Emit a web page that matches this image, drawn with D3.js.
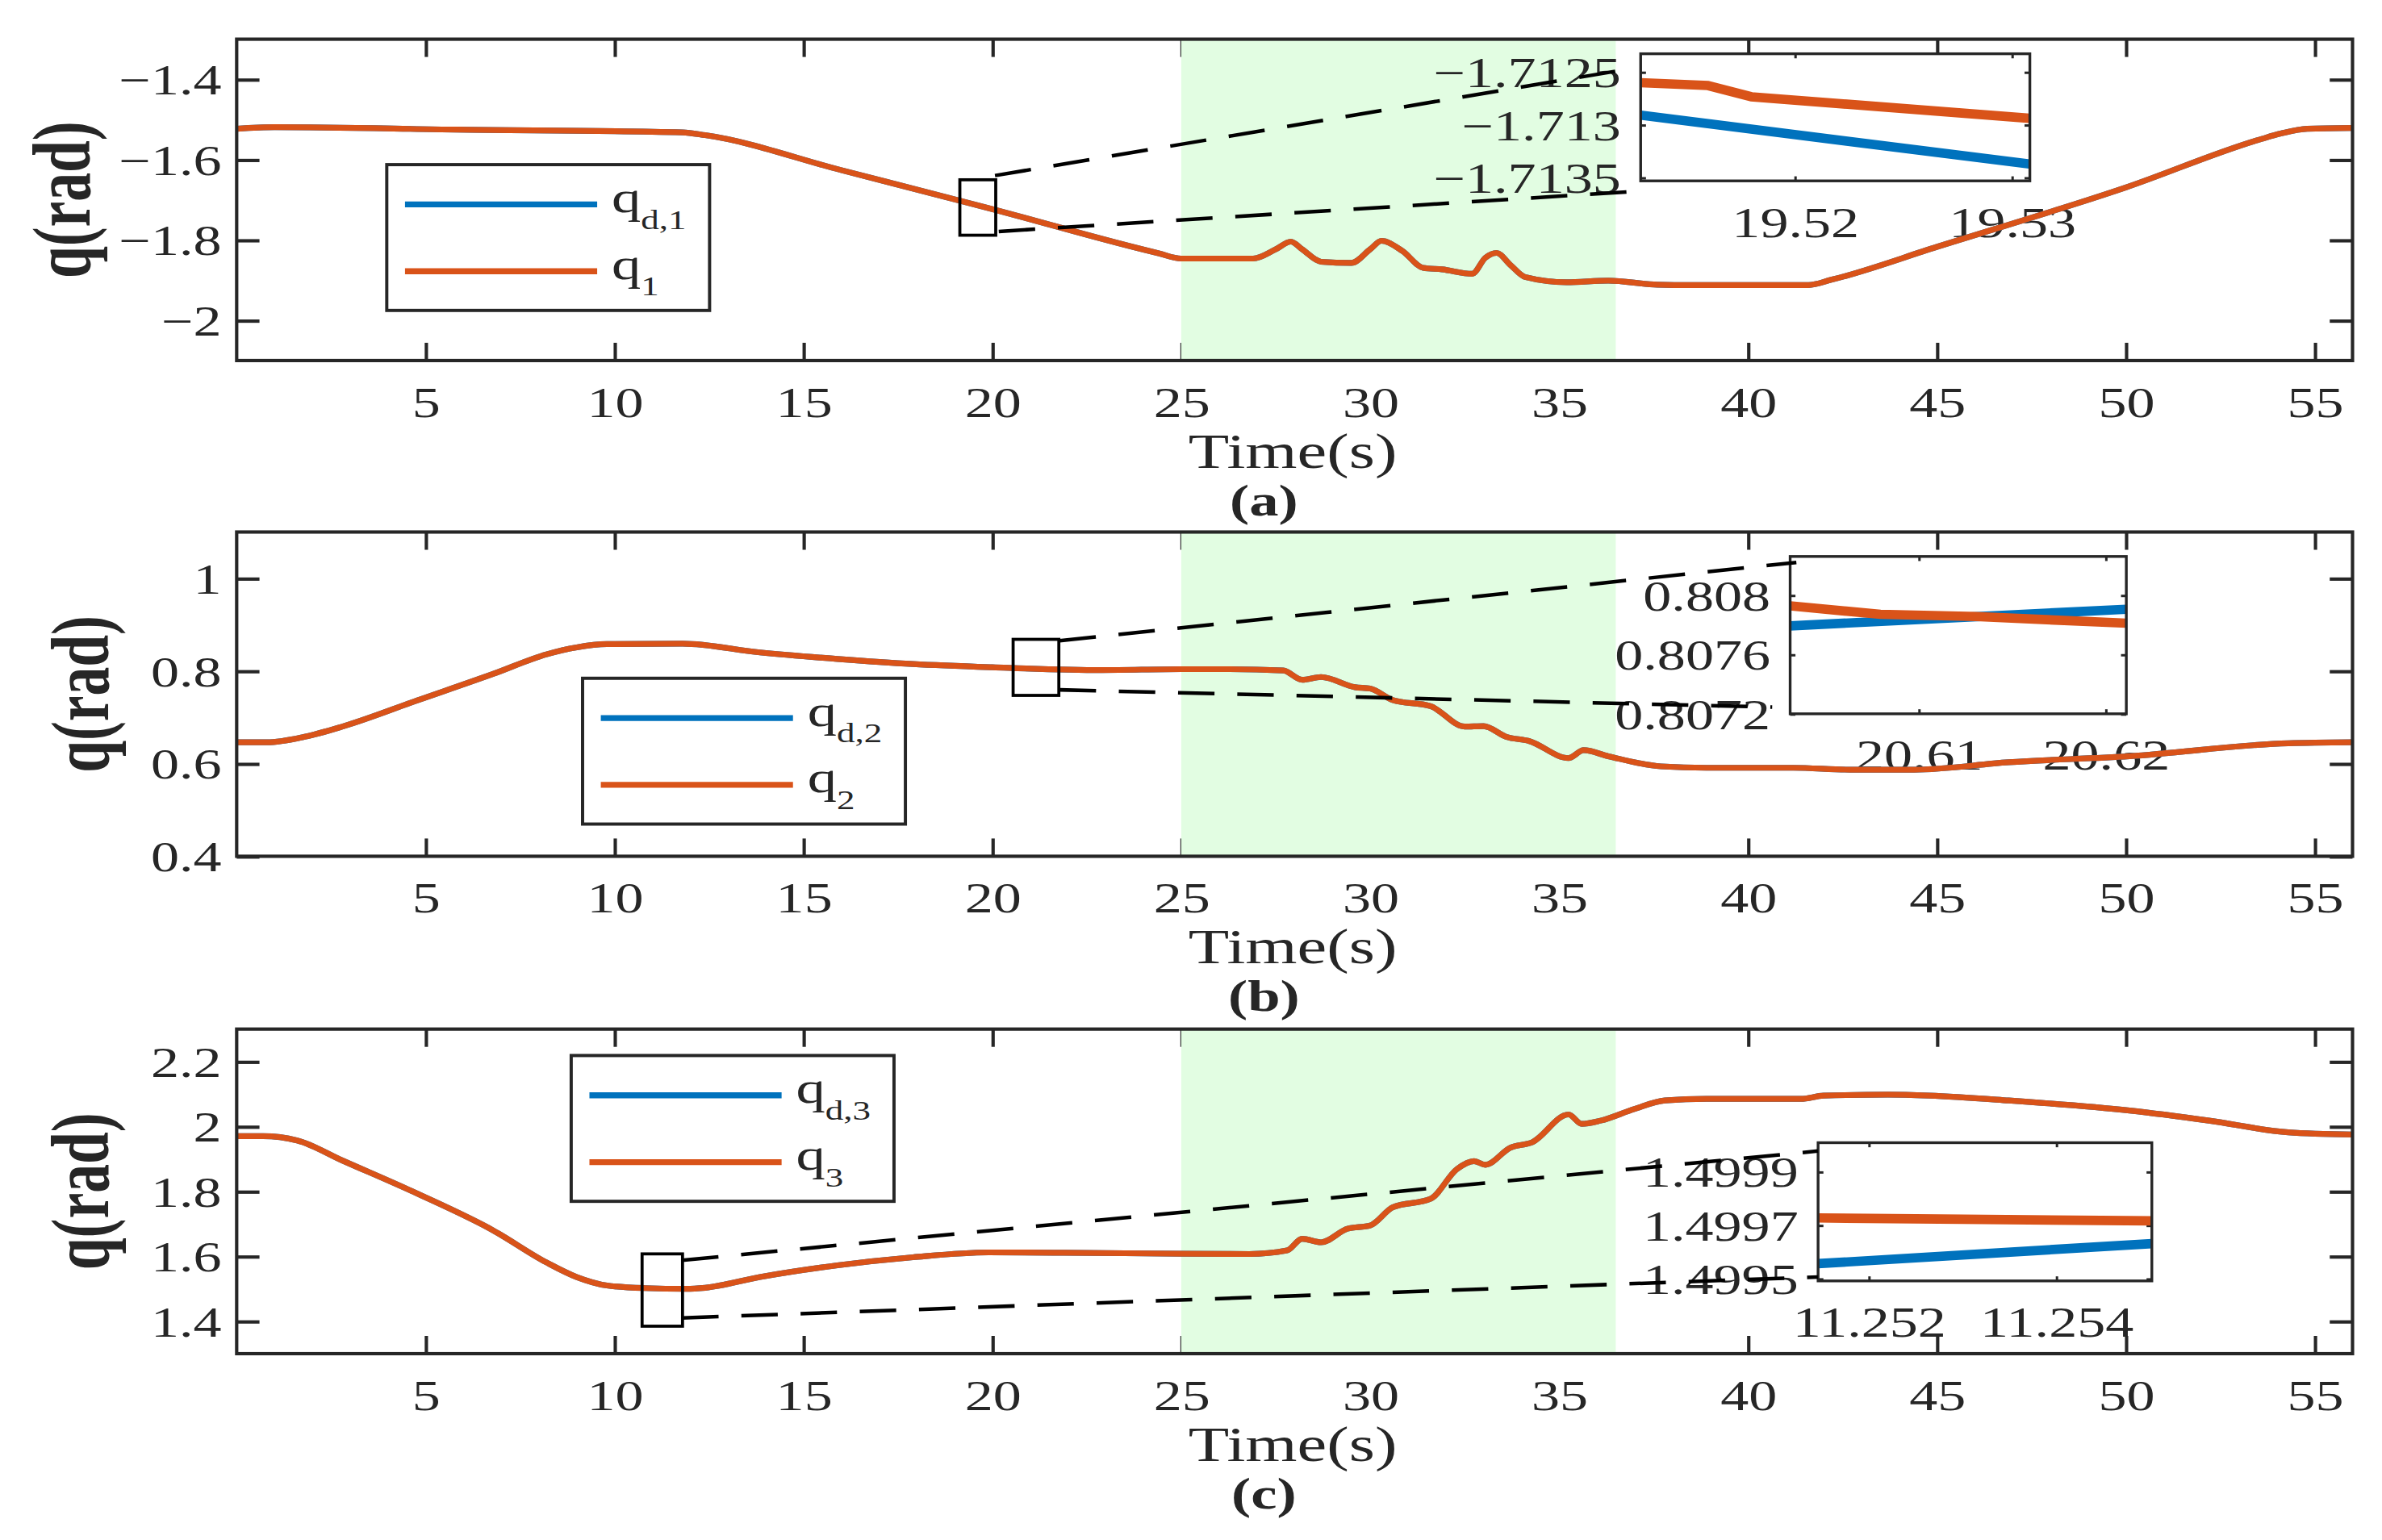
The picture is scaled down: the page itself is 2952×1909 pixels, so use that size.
<!DOCTYPE html>
<html lang="en">
<head>
  <meta charset="utf-8">
  <title>q(rad) vs Time(s)</title>
  <script src="https://cdn.jsdelivr.net/npm/d3@7"></script>
  <style>
    body { margin: 0; background: #fff; overflow: hidden; }
    svg { display: block; }
    text { font-family: "Liberation Serif", "Times New Roman", serif; fill: #262626; }
  </style>
</head>
<body>
  <div id="chart"></div>
  <script>
    // shared time axis
    const timeTicks = [5, 10, 15, 20, 25, 30, 35, 40, 45, 50, 55];
    const shadedWindow = [25, 36.5];

    // (a) joint 1 — desired and measured overlap at this scale
    const t1 = [0, 1.0, 5.8, 11.8, 12.4, 16.0, 20.0, 24.4, 25.0, 26.9, 27.5, 27.9, 28.2, 28.7, 29.5, 30.0, 30.3, 30.85, 31.4, 31.9, 32.7, 33.05, 33.35, 33.7, 34.1, 35.2, 36.3, 37.6, 38.5, 41.6, 42.2, 45.0, 50.0, 53.6, 54.1, 54.8, 56.0];
    const q1 = [-1.523, -1.519, -1.525, -1.532, -1.539, -1.626, -1.723, -1.833, -1.846, -1.846, -1.823, -1.804, -1.823, -1.854, -1.857, -1.823, -1.802, -1.827, -1.869, -1.873, -1.884, -1.844, -1.832, -1.861, -1.892, -1.905, -1.901, -1.911, -1.912, -1.912, -1.899, -1.817, -1.669, -1.548, -1.535, -1.523, -1.521];
    const q1Ticks = [-2, -1.8, -1.6, -1.4];
    // zoomed detail of joint 1
    const t1Zoom = [19.5129, 19.5160, 19.5180, 19.5308];
    const q1Zoom = [-1.712601, -1.712628, -1.712735, -1.712939];
    const t1dZoom = [19.5129, 19.5308];
    const qd1Zoom = [-1.712909, -1.713372];
    const t1ZoomTicks = [19.52, 19.53];
    const q1ZoomTicks = [-1.7135, -1.713, -1.7125];

    // (b) joint 2
    const t2 = [0, 0.8, 1.8, 2.8, 4.8, 6.8, 8.2, 9.0, 9.8, 11.8, 13.85, 15.9, 17.9, 20.0, 22.9, 25.0, 26.2, 27.7, 28.2, 28.7, 29.6, 30.0, 30.6, 31.6, 32.5, 33.0, 33.6, 34.2, 35.25, 35.65, 36.3, 37.7, 38.9, 41.2, 42.7, 44.4, 46.9, 50.1, 54.3, 56.0];
    const q2 = [0.646, 0.646, 0.658, 0.680, 0.737, 0.794, 0.836, 0.851, 0.858, 0.859, 0.840, 0.826, 0.815, 0.808, 0.802, 0.804, 0.804, 0.801, 0.781, 0.787, 0.765, 0.762, 0.737, 0.724, 0.680, 0.681, 0.658, 0.649, 0.612, 0.629, 0.616, 0.594, 0.591, 0.591, 0.587, 0.587, 0.603, 0.616, 0.644, 0.646];
    const q2Ticks = [0.4, 0.6, 0.8, 1];
    const t2Zoom = [20.60312, 20.60795, 20.61307, 20.62111];
    const q2Zoom = [0.807928, 0.807871, 0.807856, 0.807811];
    const t2dZoom = [20.60312, 20.62111];
    const qd2Zoom = [0.807793, 0.807905];
    const t2ZoomTicks = [20.61, 20.62];
    const q2ZoomTicks = [0.8072, 0.8076, 0.808];

    // (c) joint 3
    const t3 = [0, 0.7, 1.6, 2.8, 4.8, 6.8, 8.2, 9.0, 9.8, 10.8, 11.9, 12.4, 13.85, 15.9, 17.9, 19.9, 21.9, 25.0, 26.8, 27.8, 28.2, 28.7, 29.4, 30.0, 30.6, 31.6, 32.3, 32.75, 33.05, 33.7, 34.3, 35.25, 35.6, 36.1, 37.0, 37.8, 38.9, 41.4, 42.0, 43.7, 44.8, 46.9, 50.1, 52.2, 54.3, 56.0];
    const q3 = [1.970, 1.970, 1.957, 1.895, 1.792, 1.679, 1.581, 1.536, 1.510, 1.502, 1.4997, 1.503, 1.536, 1.572, 1.597, 1.612, 1.611, 1.608, 1.607, 1.618, 1.654, 1.643, 1.685, 1.695, 1.751, 1.777, 1.869, 1.893, 1.882, 1.934, 1.952, 2.037, 2.008, 2.018, 2.054, 2.080, 2.085, 2.085, 2.095, 2.098, 2.095, 2.080, 2.049, 2.018, 1.982, 1.975];
    const q3Ticks = [1.4, 1.6, 1.8, 2, 2.2];
    const t3Zoom = [11.25146, 11.25300, 11.25502];
    const q3Zoom = [1.499727, 1.499722, 1.499716];
    const t3dZoom = [11.25146, 11.25502];
    const qd3Zoom = [1.499556, 1.499631];
    const t3ZoomTicks = [11.252, 11.254];
    const q3ZoomTicks = [1.4995, 1.4997, 1.4999];

    // zoom boxes [t0, t1, q0, q1] and connector ends [tStart, qStart, tEnd, qEnd]
    const box1 = [19.14, 20.09, -1.788, -1.65];
    const link1 = [[20.07, -1.6395, 37.07, -1.3707], [20.17, -1.7786, 37.35, -1.677]];
    const box2 = [20.55, 21.76, 0.7473, 0.8683];
    const link2 = [[21.78, 0.8652, 41.28, 1.0344], [21.78, 0.7593, 40.64, 0.722]];
    const box3 = [10.73, 11.80, 1.3846, 1.6074];
    const link3 = [[11.79, 1.5878, 41.85, 1.9242], [11.79, 1.41, 41.85, 1.5363]];

    const INK = "#262626", BLUE = "#0072bd", ORANGE = "#d95319", SHADE = "#e2fde2";
    const SX = 1.33;   // the figure was stretched sideways, text too
    const fmt = d3.format("");

    const panels = [
      { tag: "(a)", sub: "1", t: t1, q: q1, yDomain: [-2.1, -1.3], yTicks: q1Ticks, top: 25.8, bottom: 237.4, ylabX: 59,
        leg: [254.6, 108.4], box: box1, links: link1,
        inset: { x0: 1080, x1: 1336.2, y0: 35.4, y1: 119.1, xd: [19.5129, 19.53083], yd: [-1.713532, -1.712327],
                 xt: t1ZoomTicks, yt: q1ZoomTicks, t: t1Zoom, q: q1Zoom, td: t1dZoom, qd: qd1Zoom } },
      { tag: "(b)", sub: "2", t: t2, q: q2, yDomain: [0.4, 1.1], yTicks: q2Ticks, top: 350.3, bottom: 563.8, ylabX: 71,
        leg: [383.5, 446.6], box: box2, links: link2,
        inset: { x0: 1178.4, x1: 1399.7, y0: 366.4, y1: 470, xd: [20.60312, 20.62111], yd: [0.8072, 0.808261],
                 xt: t2ZoomTicks, yt: q2ZoomTicks, t: t2Zoom, q: q2Zoom, td: t2dZoom, qd: qd2Zoom } },
      { tag: "(c)", sub: "3", t: t3, q: q3, yDomain: [1.3, 2.3], yTicks: q3Ticks, top: 677.6, bottom: 891.3, ylabX: 71,
        leg: [376, 695], box: box3, links: link3,
        inset: { x0: 1196.8, x1: 1416.5, y0: 752.4, y1: 843.4, xd: [11.25146, 11.25502], yd: [1.4994915, 1.5000085],
                 xt: t3ZoomTicks, yt: q3ZoomTicks, t: t3Zoom, q: q3Zoom, td: t3dZoom, qd: qd3Zoom } }
    ];

    const svg = d3.select("#chart").append("svg")
      .attr("width", 2952).attr("height", 1909)
      .attr("viewBox", "0 0 1568 1014");

    const x = d3.scaleLinear().domain([0, 56]).range([155.8, 1548.6]);

    // ticks pointing inward on all four sides, labels on bottom and left
    function frame(g, x, y, o) {
      const [x0, x1] = x.range(), [y1, y0] = y.range();
      const ax = (gen, tx, ty, vals, len, withText) => {
        const a = g.append("g").attr("transform", `translate(${tx},${ty})`).attr("color", INK)
          .call(gen.tickValues(vals).tickSizeInner(-len).tickSizeOuter(0).tickFormat(withText ? fmt : ""));
        a.select(".domain").remove();
        a.selectAll(".tick line").attr("stroke-width", o.tw);
        if (!withText) a.selectAll(".tick text").remove();
        return a;
      };
      const bottom = ax(d3.axisBottom(x), 0, y1, o.xt, o.xlen, true);
      ax(d3.axisTop(x), 0, y0, o.xt, o.xlen, false);
      const left = ax(d3.axisLeft(y), x0, 0, o.yt, o.ylen, true);
      ax(d3.axisRight(y), x1, 0, o.yt, o.ylen, false);
      bottom.selectAll(".tick text")
        .attr("y", 37).attr("dy", null).attr("transform", `scale(${SX},1)`)
        .style("font-size", "28px");
      left.selectAll(".tick text")
        .attr("x", -o.gap / SX).attr("dy", "0.34em").attr("transform", `scale(${SX},1)`)
        .style("font-size", "28px");
    }

    function text(g, px, py, str, size, anchor, weight) {
      return g.append("text")
        .attr("transform", `translate(${px},${py}) scale(${SX},1)`)
        .attr("text-anchor", anchor || "middle")
        .style("font-size", size + "px")
        .style("font-weight", weight || "normal")
        .text(str);
    }

    panels.forEach((p, i) => {
      const g = svg.append("g");
      const y = d3.scaleLinear().domain(p.yDomain).range([p.bottom, p.top]);
      const line = d3.line().x(d => x(d[0])).y(d => y(d[1])).curve(d3.curveMonotoneX);

      frame(g, x, y, { xt: timeTicks, yt: p.yTicks, xlen: 11.7, ylen: 15, tw: 2.2, gap: 10 });

      // shaded window lies over the ticks, as in the original
      g.append("rect")
        .attr("x", x(shadedWindow[0])).attr("y", p.top)
        .attr("width", x(shadedWindow[1]) - x(shadedWindow[0])).attr("height", p.bottom - p.top)
        .attr("fill", SHADE);

      // inset
      const I = p.inset;
      const ix = d3.scaleLinear().domain(I.xd).range([I.x0, I.x1]);
      const iy = d3.scaleLinear().domain(I.yd).range([I.y1, I.y0]);
      const ig = g.append("g");
      ig.append("rect").attr("x", I.x0).attr("y", I.y0)
        .attr("width", I.x1 - I.x0).attr("height", I.y1 - I.y0).attr("fill", "#fff");
      frame(ig, ix, iy, { xt: I.xt, yt: I.yt, xlen: 3, ylen: 3.5, tw: 1.6, gap: 13 });
      ig.append("clipPath").attr("id", "clip" + i).append("rect")
        .attr("x", I.x0).attr("y", I.y0).attr("width", I.x1 - I.x0).attr("height", I.y1 - I.y0);
      const iline = d3.line().x(d => ix(d[0])).y(d => iy(d[1]));
      ig.append("path").datum(d3.zip(I.td, I.qd)).attr("d", iline)
        .attr("fill", "none").attr("stroke", BLUE).attr("stroke-width", 6.2).attr("clip-path", `url(#clip${i})`);
      ig.append("path").datum(d3.zip(I.t, I.q)).attr("d", iline)
        .attr("fill", "none").attr("stroke", ORANGE).attr("stroke-width", 6.2).attr("clip-path", `url(#clip${i})`);
      ig.append("rect").attr("x", I.x0).attr("y", I.y0)
        .attr("width", I.x1 - I.x0).attr("height", I.y1 - I.y0)
        .attr("fill", "none").attr("stroke", INK).attr("stroke-width", 1.8);

      // main curves: desired (blue) sits under measured (orange)
      const pts = d3.zip(p.t, p.q);
      g.append("path").datum(pts).attr("d", line)
        .attr("fill", "none").attr("stroke", BLUE).attr("stroke-width", 3.8);
      g.append("path").datum(pts).attr("d", line)
        .attr("fill", "none").attr("stroke", ORANGE).attr("stroke-width", 3.8);

      // axes box
      g.append("rect").attr("x", x.range()[0]).attr("y", p.top)
        .attr("width", x.range()[1] - x.range()[0]).attr("height", p.bottom - p.top)
        .attr("fill", "none").attr("stroke", INK).attr("stroke-width", 2.2);

      // zoom box + dashed connectors
      const b = p.box;
      g.append("rect").attr("x", x(b[0])).attr("y", y(b[3]))
        .attr("width", x(b[1]) - x(b[0])).attr("height", y(b[2]) - y(b[3]))
        .attr("fill", "none").attr("stroke", "#000").attr("stroke-width", 2);
      g.selectAll(".conn").data(p.links).enter().append("line")
        .attr("x1", d => x(d[0])).attr("y1", d => y(d[1]))
        .attr("x2", d => x(d[2])).attr("y2", d => y(d[3]))
        .attr("stroke", "#000").attr("stroke-width", 2.4).attr("stroke-dasharray", "24,15");

      // legend
      const [lx, ly] = p.leg;
      const lg = g.append("g");
      lg.append("rect").attr("x", lx).attr("y", ly).attr("width", 212.5).attr("height", 96)
        .attr("fill", "#fff").attr("stroke", INK).attr("stroke-width", 2.1);
      const entries = [{ c: BLUE, sub: "d," + p.sub, dy: 26.2 }, { c: ORANGE, sub: p.sub, dy: 70.2 }];
      entries.forEach(e => {
        lg.append("line").attr("x1", lx + 12).attr("x2", lx + 138.5)
          .attr("y1", ly + e.dy).attr("y2", ly + e.dy)
          .attr("stroke", e.c).attr("stroke-width", 3.9);
        const tx = lg.append("text")
          .attr("transform", `translate(${lx + 148},${ly + e.dy + 5}) scale(${SX},1)`)
          .style("font-size", "29px");
        tx.append("tspan").text("q");
        tx.append("tspan").attr("dy", 11).style("font-size", "18px").text(e.sub);
      });

      // axis titles
      text(g, 851, p.bottom + 70.6, "Time(s)", 33);
      text(g, 832, p.bottom + 102, p.tag, 29, "middle", "bold");
      g.append("text")
        .attr("transform", `translate(${p.ylabX},${(p.top + p.bottom) / 2}) scale(1.42,1) rotate(-90)`)
        .attr("text-anchor", "middle")
        .style("font-size", "38px").style("font-weight", "bold")
        .text("q(rad)");
    });
  </script>
</body>
</html>
